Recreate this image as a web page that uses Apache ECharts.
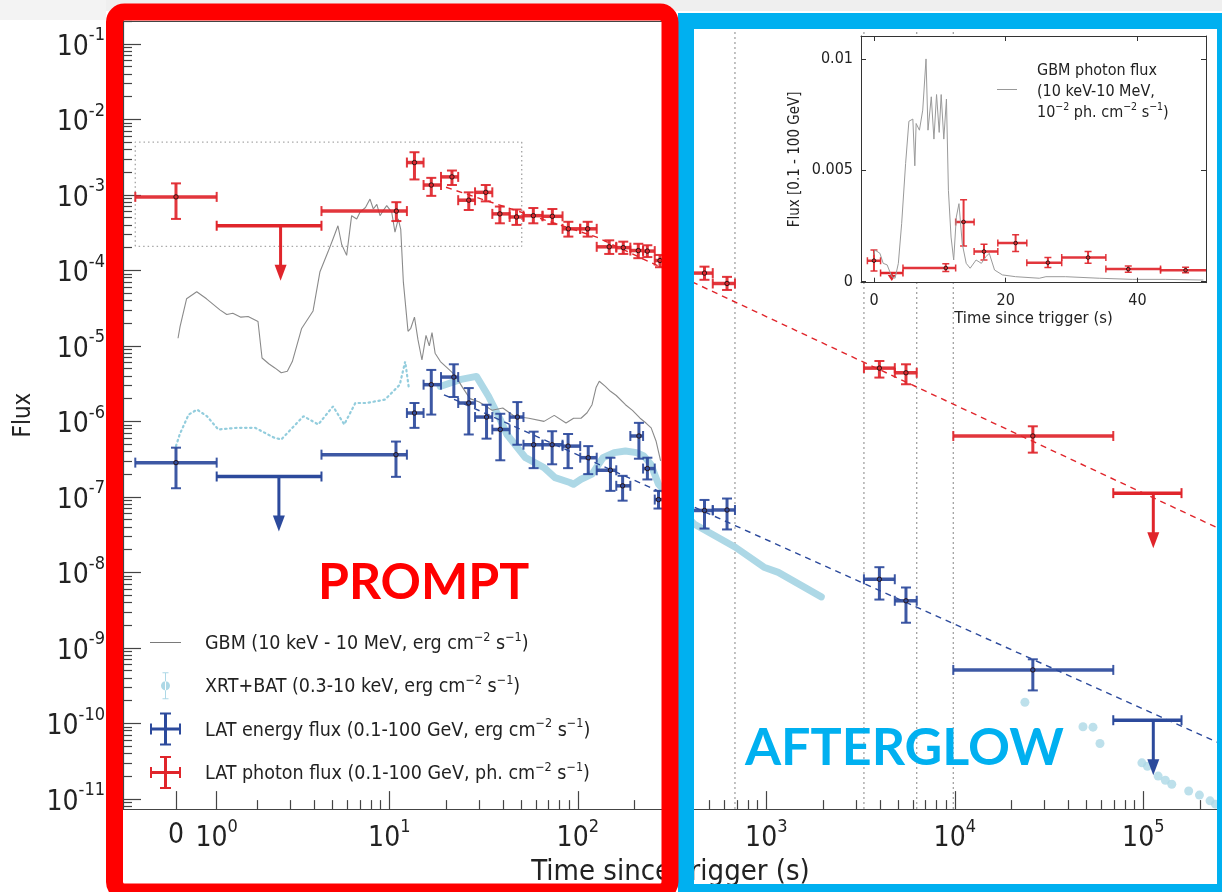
<!DOCTYPE html>
<html><head><meta charset="utf-8">
<script src="https://cdn.jsdelivr.net/npm/echarts@6/dist/echarts.min.js"></script>
<style>html,body{margin:0;padding:0;background:#fff}#c{width:1222px;height:892px}</style>
</head><body><div id="c"></div>
<script>
// ---------------- DATA (times in s, fluxes as plotted) ----------------
const xMajorTimes = [0, 1, 10, 100, 1000, 10000, 100000];
const xTickBase = ['0', '10', '10', '10', '10', '10', '10'];
const xTickExp = ['', '0', '1', '2', '3', '4', '5'];
const yMajorExp = [-11, -10, -9, -8, -7, -6, -5, -4, -3, -2, -1];

const gbmTime = [0.05,0.1,0.26,0.51,0.75,1.08,1.25,1.4,1.6,1.78,2.03,2.15,2.35,2.53,2.72,2.9,3.07,3.47,3.96,4.32,4.75,5.02,5.35,5.6,5.93,6.32,6.73,7.0,7.5,7.91,8.24,8.6,8.93,9.3,9.7,10.3,10.72,11.16,11.5,11.87,12.57,13.0,13.6,14.2,14.9,15.66,16.3,16.85,17.5,18.67,20.5,22.3,24.5,26.8,30,35.1,40,46.1,55,66.2,75,86.6,95,104,112,119,125,130,140,149,160,179,195,214,230,245,260,275];
const gbmFlux = [1.26e-5,1.8e-5,4.2e-5,5.2e-5,4.2e-5,3.0e-5,2.6e-5,2.7e-5,2.4e-5,2.45e-5,2.1e-5,6.9e-6,5.8e-6,5.1e-6,4.4e-6,4.6e-6,6.2e-6,1.7e-5,2.9e-5,9.6e-5,1.76e-4,2.6e-4,3.9e-4,2.2e-4,1.58e-4,5.3e-4,4.8e-4,5.9e-4,6.8e-4,8.8e-4,6.5e-4,7.5e-4,5.3e-4,6.2e-4,7.2e-4,5.9e-4,3.2e-4,4.8e-4,3.5e-4,7.1e-5,1.56e-5,1.71e-5,2.4e-5,1.2e-5,6.5e-6,1.38e-5,1.0e-5,1.5e-5,8.0e-6,6.2e-6,5.0e-6,4.1e-6,2.8e-6,2.0e-6,1.8e-6,1.4e-6,1.5e-6,1.17e-6,1.1e-6,1.0e-6,1.2e-6,9.5e-7,1.1e-6,1.1e-6,1.3e-6,1.66e-6,2.8e-6,3.4e-6,2.9e-6,2.5e-6,2.2e-6,1.66e-6,1.4e-6,1.1e-6,9.5e-7,8.2e-7,5.5e-7,3.0e-7];

const batTime = [0,0.09,0.31,0.52,0.76,1.04,1.5,1.96,2.5,2.72,3.07,3.55,4.23,5.02,5.77,6.62,7.58,9.49,11.36,12.14,12.7];
const batFlux = [4.7e-7,6.7e-7,1.23e-6,1.43e-6,1.17e-6,7.8e-7,8.2e-7,8.2e-7,6.1e-7,5.75e-7,8.2e-7,1.17e-6,9.1e-7,1.58e-6,9.1e-7,1.75e-6,1.75e-6,1.94e-6,3.05e-6,6.2e-6,2.76e-6];

const xrtTime = [18.6,24,29,33.6,38.5,42.1,52.8,66.2,75.7,90.7,94.9,104,119,136,156,179,205,224,244,268,414,685,972,1158,1958];
const xrtFlux = [2.9e-6,3.6e-6,3.94e-6,2.15e-6,1.1e-6,6.7e-7,3.3e-7,2.44e-7,1.8e-7,1.55e-7,1.47e-7,1.71e-7,2.0e-7,3.3e-7,3.85e-7,4.05e-7,3.85e-7,3.48e-7,2.7e-7,1.47e-7,4.37e-8,2.15e-8,1.17e-8,1.0e-8,4.73e-9];

const xrtLateTime = [23550,47860,54090,58900,98300,105200,119900,130900,141600,174100,198500,226000,241600];
const xrtLateFlux = [1.9e-10,9.0e-11,8.9e-11,5.4e-11,3.0e-11,2.7e-11,2.0e-11,1.76e-11,1.56e-11,1.27e-11,1.12e-11,9.4e-12,8.5e-12];

const photonTime   = [0,10.9,13.6,16.7,21.5,26.4,32.5,38.6,47.3,58.1,73.3,89.1,112.8,146.8,174.3,209.4,233.8,273,470,619,3981,5508,25940];
const photonTimeLo = [-1,4.4,12.4,15.2,18.8,23.2,28.5,35.2,43.5,51.5,65,83,103,126,160,190,222,256,390,520,3296,4805,9817];
const photonTimeHi = [1,12.4,15.2,18.8,23.2,28.5,35.2,43.5,51.5,65,83,103,126,160,190,222,256,300,520,682,4805,6281,69300];
const photonFlux   = [9.4e-4,6.1e-4,2.68e-3,1.35e-3,1.73e-3,8.5e-4,1.08e-3,5.6e-4,5.1e-4,5.3e-4,5.2e-4,3.55e-4,3.55e-4,2.05e-4,2.0e-4,1.83e-4,1.8e-4,1.35e-4,9.2e-5,6.7e-5,5.07e-6,4.4e-6,6.4e-7];
const photonFluxLo = [4.8e-4,4.5e-4,1.6e-3,9.7e-4,1.35e-3,6.3e-4,8.2e-4,4.2e-4,4.0e-4,4.2e-4,4.1e-4,2.8e-4,2.8e-4,1.65e-4,1.65e-4,1.45e-4,1.5e-4,1.1e-4,7.5e-5,5.5e-5,3.8e-6,3.1e-6,3.85e-7];
const photonFluxHi = [1.42e-3,8.0e-4,3.67e-3,1.68e-3,2.1e-3,1.08e-3,1.35e-3,7.0e-4,6.4e-4,6.7e-4,6.5e-4,4.4e-4,4.4e-4,2.5e-4,2.4e-4,2.25e-4,2.15e-4,1.6e-4,1.12e-4,8.2e-5,6.3e-6,5.7e-6,8.6e-7];
const photonUlTime = [2.7, 113000];
const photonUlTimeLo = [1, 69300];
const photonUlTimeHi = [4.4, 159500];
const photonUlFlux = [3.9e-4, 1.12e-7];

const energyTime   = [0,10.85,13.6,16.7,22.0,26.4,32.8,38.8,47.8,58.3,73.1,88.8,113.6,149,172.9,211,234,268,470,619,3981,5508,25940];
const energyTimeLo = [-1,4.4,12.4,15.2,18.8,23.2,28.5,35.2,43.5,51.5,65,83,103,126,160,190,222,256,390,520,3296,4805,9817];
const energyTimeHi = [1,12.4,15.2,18.8,23.2,28.5,35.2,43.5,51.5,65,83,103,126,160,190,222,256,300,520,682,4805,6281,69300];
const energyFlux   = [2.84e-7,3.62e-7,1.29e-6,3.06e-6,3.86e-6,1.75e-6,1.14e-6,7.8e-7,1.14e-6,4.9e-7,4.9e-7,4.7e-7,3.3e-7,2.25e-7,1.4e-7,6.4e-7,2.37e-7,9.2e-8,6.6e-8,6.7e-8,8.1e-9,4.2e-9,5.1e-10];
const energyFluxLo = [1.3e-7,1.84e-7,8.2e-7,1.23e-6,2.1e-6,6.7e-7,5.9e-7,3.05e-7,4.9e-7,2.4e-7,2.7e-7,2.4e-7,2.0e-7,1.2e-7,8.9e-8,3.2e-7,1.7e-7,7e-8,3.8e-8,3.7e-8,4.36e-9,2.15e-9,2.73e-10];
const energyFluxHi = [4.48e-7,5.4e-7,1.75e-6,4.8e-6,5.7e-6,2.76e-6,1.66e-6,1.26e-6,1.8e-6,7.3e-7,7.4e-7,6.8e-7,4.7e-7,3.3e-7,1.9e-7,9.55e-7,3.3e-7,1.2e-7,9.1e-8,9.5e-8,1.17e-8,6.3e-9,7.05e-10];
const energyUlTime = [2.65, 113000];
const energyUlTimeLo = [1, 69300];
const energyUlTimeHi = [4.4, 159500];
const energyUlFlux = [1.86e-7, 1.1e-10];

const photonFitTime = [20, 126, 261600];
const photonFitFlux = [1.26e-3, 2.75e-4, 3.64e-8];
const energyFitTime = [19.5, 261600];
const energyFitFlux = [2.25e-6, 5.26e-11];

const orbitEdges = [682, 3296, 6281, 9817];
const zoomBoxTime = [-1, 50.4];
const zoomBoxFlux = [2.08e-4, 5.0e-3];

const insetGbmTime = [0,0.15,0.9,1.4,2.0,2.7,3.2,3.7,4.2,4.8,5.3,5.9,6.2,6.4,6.9,7.4,7.9,8.2,8.7,9.1,9.5,9.9,10.2,10.6,11.0,11.3,11.7,12.1,12.5,12.9,13.4,14.0,14.6,15.5,16.3,17.0,17.5,18.3,19.5,21.5,25.1,26.1,29.1,34.2,39.2,44.2,50];
const insetGbmFlux = [1.2e-3,1.42e-3,1.27e-3,0.82e-3,0.75e-3,0.22e-3,0.15e-3,0.82e-3,2.6e-3,5.3e-3,7.2e-3,7.3e-3,5.2e-3,7.1e-3,6.8e-3,7.7e-3,10.0e-3,6.8e-3,8.3e-3,6.4e-3,8.4e-3,6.7e-3,8.4e-3,6.4e-3,8.2e-3,4.1e-3,2.0e-3,0.97e-3,2.9e-3,3.5e-3,1.7e-3,0.82e-3,0.6e-3,0.97e-3,0.82e-3,1.12e-3,1.27e-3,0.52e-3,0.3e-3,0.22e-3,0.15e-3,0.22e-3,0.22e-3,0.15e-3,0.1e-3,0.1e-3,0.07e-3];
const insetXTicks = [0, 20, 40];
const insetYTicks = [0, 0.005, 0.01];
const insetYLabels = ['0', '0.005', '0.01'];

// ---------------- AXIS SCALE (prompt part of the time axis is warped) ----------------
const warpT = [0,1,2,3,4,5,6,7,8,9,10];
const warpU = [-0.1316,0.0843,0.2981,0.4769,0.6005,0.6997,0.7793,0.8446,0.9029,0.9544,1.0];
function toU(t) {
  if (t >= 10) return Math.log10(t);
  if (t <= 0) return warpU[0] + t * (warpU[1] - warpU[0]);
  const i = Math.floor(t), f = t - i;
  return warpU[i] + f * (warpU[i + 1] - warpU[i]);
}
const lg = Math.log10;
const X_MIN = -0.4127, X_MAX = 5.3963, Y_MIN = -11.136, Y_MAX = -0.697;
const IX_MIN = -1.97, IX_MAX = 50.4, IY_MIN = -0.00005, IY_MAX = 0.01103;

const FONT = "'DejaVu Sans Condensed','DejaVu Sans',sans-serif";
const RED = '#e0252b', BLUE = '#2c4a9c', LIGHT = '#add8e6', GRAY = '#8a8a8a', AX = '#444';

const xMajorU = xMajorTimes.map(toU);
const xMinorU = [];
for (let d = 0; d <= 5; d++) for (let k = 2; k <= 9; k++) { const u = toU(k * Math.pow(10, d)); if (u < X_MAX) xMinorU.push(u); }
const yMinor = [];
for (let n = -12; n <= -1; n++) for (let k = 2; k <= 9; k++) { const v = n + lg(k); if (v > Y_MIN && v < Y_MAX) yMinor.push(v); }

function xLabel(v) {
  let best = 0, bd = 1e9;
  xMajorU.forEach((u, i) => { const d = Math.abs(u - v); if (d < bd) { bd = d; best = i; } });
  return xTickExp[best] === '' ? '{z|' + xTickBase[best] + '}' : '{b|' + xTickBase[best] + '}{s|' + xTickExp[best] + '}';
}

// ---------------- renderers ----------------
function errRender(o) {
  return function (params, api) {
    const c = api.coord([api.value(0), api.value(1)]);
    const xl = api.coord([api.value(2), api.value(1)]);
    const xh = api.coord([api.value(3), api.value(1)]);
    const yl = api.coord([api.value(0), api.value(4)]);
    const yh = api.coord([api.value(0), api.value(5)]);
    const L = (x1, y1, x2, y2, w) => ({ type: 'line', shape: { x1, y1, x2, y2 }, style: { stroke: o.color, lineWidth: w, opacity: 0.92 } });
    return { type: 'group', children: [
      L(xl[0], c[1], xh[0], c[1], o.hw),
      L(c[0], yl[1], c[0], yh[1], o.vw),
      L(xl[0], c[1] - o.cap, xl[0], c[1] + o.cap, o.cw),
      L(xh[0], c[1] - o.cap, xh[0], c[1] + o.cap, o.cw),
      L(c[0] - o.cap, yl[1], c[0] + o.cap, yl[1], o.cw),
      L(c[0] - o.cap, yh[1], c[0] + o.cap, yh[1], o.cw),
      { type: 'circle', shape: { cx: c[0], cy: c[1], r: o.r }, style: { fill: 'none', stroke: '#2a1515', lineWidth: 1 } }
    ] };
  };
}
function ulRender(o) {
  return function (params, api) {
    const c = api.coord([api.value(0), api.value(1)]);
    const xl = api.coord([api.value(2), api.value(1)]);
    const xh = api.coord([api.value(3), api.value(1)]);
    const tip = c[1] + o.arrow;
    const L = (x1, y1, x2, y2, w) => ({ type: 'line', shape: { x1, y1, x2, y2 }, style: { stroke: o.color, lineWidth: w } });
    return { type: 'group', children: [
      L(xl[0], c[1], xh[0], c[1], o.hw),
      L(xl[0], c[1] - o.cap, xl[0], c[1] + o.cap, o.cw),
      L(xh[0], c[1] - o.cap, xh[0], c[1] + o.cap, o.cw),
      L(c[0], c[1], c[0], tip - o.head + 1, o.vw),
      { type: 'polygon', shape: { points: [[c[0] - o.hwid, tip - o.head], [c[0] + o.hwid, tip - o.head], [c[0], tip]] }, style: { fill: o.color } }
    ] };
  };
}

const errMain = (t, tl, th, f, fl, fh) => t.map((v, i) => [toU(v), lg(f[i]), toU(tl[i]), toU(th[i]), lg(fl[i]), lg(fh[i])]);
const ulMain = (t, tl, th, f) => t.map((v, i) => [toU(v), lg(f[i]), toU(tl[i]), toU(th[i])]);

const insetIdx = photonTime.map((t, i) => i).filter(i => photonTime[i] <= 52);
const insetPts = insetIdx.map(i => [photonTime[i], photonFlux[i], photonTimeLo[i], photonTimeHi[i], photonFluxLo[i], photonFluxHi[i]]);
const insetUl = photonUlTime.map((t, i) => [t, photonUlFlux[i], photonUlTimeLo[i], photonUlTimeHi[i]]).filter(d => d[0] <= 52);

// ---------------- legend ----------------
const NOBOX = 'M0,0L0,0Z M31,33L31,33Z ';
const ICON_LINE = 'path://' + NOBOX + 'M0,15.9H31V17.1H0Z';
const ICON_CROSS = 'path://' + NOBOX + 'M0,15H31V18H0Z M14,0H17V33H14Z M0,11H2V22H0Z M29,11H31V22H29Z M10,0H21V2H10Z M10,31H21V33H10Z';
const ICON_XRT = 'path://' + NOBOX + 'M11,16.5A4.5,4.5 0 1,0 20,16.5A4.5,4.5 0 1,0 11,16.5Z M15,3H16V30H15Z M12.5,3H18.5V4H12.5Z M12.5,29H18.5V30H12.5Z';
const ICON_INSET = 'path://M0,0L0,0Z M20,10L20,10Z M0,4.4H20V5.6H0Z';
const legendText = {
  'GBM': '{n|GBM (10 keV - 10 MeV, erg cm}{s|−2}{n| s}{s|−1}{n|)}',
  'XRT+BAT': '{n|XRT+BAT (0.3-10 keV, erg cm}{s|−2}{n| s}{s|−1}{n|)}',
  'LAT energy flux': '{n|LAT energy flux (0.1-100 GeV, erg cm}{s|−2}{n| s}{s|−1}{n|)}',
  'LAT photon flux': '{n|LAT photon flux (0.1-100 GeV, ph. cm}{s|−2}{n| s}{s|−1}{n|)}',
  'GBM photon flux': '{n|GBM photon flux}\n{n|(10 keV-10 MeV,}\n{n|10}{s|−2}{n| ph. cm}{s|−2}{n| s}{s|−1}{n|)}'
};
const leg = (name, icon, color) => ({ name, icon, itemStyle: { color, borderWidth: 0, borderColor: 'transparent' } });

const chart = echarts.init(document.getElementById('c'), null, { renderer: 'canvas' });
const tickStyle = { color: AX, width: 1.2 };
const option = {
  animation: false,
  backgroundColor: '#fff',
  grid: [
    { left: 123, right: 4, top: 21, bottom: 78.7, show: false },
    { left: 861, top: 36, width: 345, height: 246.7, show: true, backgroundColor: '#fff', borderWidth: 0, z: 3 }
  ],
  legend: [
    {
      data: [leg('GBM', ICON_LINE, '#7a7a7a'), leg('XRT+BAT', ICON_XRT, LIGHT), leg('LAT energy flux', ICON_CROSS, BLUE), leg('LAT photon flux', ICON_CROSS, RED)],
      orient: 'vertical', left: 145, top: 621, itemWidth: 31, itemHeight: 33, itemGap: 10.3, selectedMode: false,
      formatter: n => legendText[n],
      textStyle: { padding: [0, 0, 0, 19], rich: {
        n: { fontSize: 19.5, fontFamily: FONT, color: '#222', verticalAlign: 'bottom' },
        s: { fontSize: 12.5, fontFamily: FONT, color: '#222', verticalAlign: 'bottom', padding: [0, 0, 10, 0] } } }
    },
    {
      data: [leg('GBM photon flux', ICON_INSET, '#999')],
      orient: 'vertical', left: 992, top: 58, itemWidth: 20, itemHeight: 10, selectedMode: false, z: 8,
      formatter: n => legendText[n],
      textStyle: { padding: [0, 0, 0, 15], rich: {
        n: { fontSize: 16, fontFamily: FONT, color: '#222', verticalAlign: 'bottom', lineHeight: 21 },
        s: { fontSize: 10.5, fontFamily: FONT, color: '#222', verticalAlign: 'bottom', padding: [0, 0, 8, 0] } } }
    }
  ],
  xAxis: [
    { type: 'value', gridIndex: 0, min: X_MIN, max: X_MAX, position: 'bottom',
      axisLine: { show: true, onZero: false, lineStyle: tickStyle },
      axisTick: { show: true, inside: true, length: 18, customValues: xMajorU, lineStyle: tickStyle },
      axisLabel: { show: true, customValues: xMajorU, margin: 9, formatter: xLabel, rich: {
        b: { fontSize: 28, fontFamily: FONT, color: '#222', verticalAlign: 'bottom' },
        z: { fontSize: 28, fontFamily: FONT, color: '#222', verticalAlign: 'bottom', padding: [4, 0, 0, 0] },
        s: { fontSize: 18, fontFamily: FONT, color: '#222', verticalAlign: 'bottom', padding: [0, 0, 17, 0] } } },
      splitLine: { show: false },
      name: 'Time since trigger (s)', nameLocation: 'middle', nameGap: 48,
      nameTextStyle: { fontSize: 29, fontFamily: FONT, color: '#222' } },
    { type: 'value', gridIndex: 0, min: X_MIN, max: X_MAX, position: 'bottom',
      axisLine: { show: false, onZero: false }, axisLabel: { show: false }, splitLine: { show: false },
      axisTick: { show: true, inside: true, length: 9, customValues: xMinorU, lineStyle: tickStyle } },
    { type: 'value', gridIndex: 0, min: X_MIN, max: X_MAX, position: 'top',
      axisLine: { show: true, onZero: false, lineStyle: tickStyle }, axisTick: { show: false }, axisLabel: { show: false }, splitLine: { show: false } },
    { type: 'value', gridIndex: 1, min: IX_MIN, max: IX_MAX, position: 'bottom', z: 6,
      axisLine: { show: true, onZero: false, lineStyle: { color: '#333', width: 1 } },
      axisTick: { show: true, inside: true, length: 5, customValues: insetXTicks, lineStyle: { color: '#333' } },
      axisLabel: { show: true, customValues: insetXTicks, margin: 10, fontSize: 16, fontFamily: FONT, color: '#222' },
      splitLine: { show: false },
      name: 'Time since trigger (s)', nameLocation: 'middle', nameGap: 28,
      nameTextStyle: { fontSize: 16.5, fontFamily: FONT, color: '#222' } },
    { type: 'value', gridIndex: 1, min: IX_MIN, max: IX_MAX, position: 'top', z: 6,
      axisLine: { show: true, onZero: false, lineStyle: { color: '#333', width: 1 } },
      axisTick: { show: true, inside: true, length: 5, customValues: insetXTicks, lineStyle: { color: '#333' } },
      axisLabel: { show: false }, splitLine: { show: false } }
  ],
  yAxis: [
    { type: 'value', gridIndex: 0, min: Y_MIN, max: Y_MAX, position: 'left',
      axisLine: { show: true, onZero: false, lineStyle: tickStyle },
      axisTick: { show: true, inside: true, length: 18, customValues: yMajorExp, lineStyle: tickStyle },
      axisLabel: { show: true, customValues: yMajorExp, margin: 18, formatter: v => '{b|10}{s|' + Math.round(v) + '}', rich: {
        b: { fontSize: 28, fontFamily: FONT, color: '#222', verticalAlign: 'bottom' },
        s: { fontSize: 18, fontFamily: FONT, color: '#222', verticalAlign: 'bottom', padding: [0, 0, 17, 0] } } },
      splitLine: { show: false },
      name: 'Flux', nameLocation: 'middle', nameGap: 81,
      nameTextStyle: { fontSize: 24, fontFamily: FONT, color: '#222' } },
    { type: 'value', gridIndex: 0, min: Y_MIN, max: Y_MAX, position: 'left',
      axisLine: { show: false, onZero: false }, axisLabel: { show: false }, splitLine: { show: false },
      axisTick: { show: true, inside: true, length: 9, customValues: yMinor, lineStyle: tickStyle } },
    { type: 'value', gridIndex: 0, min: Y_MIN, max: Y_MAX, position: 'right',
      axisLine: { show: true, onZero: false, lineStyle: tickStyle }, axisTick: { show: false }, axisLabel: { show: false }, splitLine: { show: false } },
    { type: 'value', gridIndex: 1, min: IY_MIN, max: IY_MAX, position: 'left', z: 6,
      axisLine: { show: true, onZero: false, lineStyle: { color: '#333', width: 1 } },
      axisTick: { show: true, inside: true, length: 5, customValues: insetYTicks, lineStyle: { color: '#333' } },
      axisLabel: { show: true, customValues: insetYTicks, margin: 8, fontSize: 16, fontFamily: FONT, color: '#222',
        formatter: v => insetYLabels[insetYTicks.findIndex(x => Math.abs(x - v) < 1e-9)] || '' },
      splitLine: { show: false },
      name: 'Flux [0.1 - 100 GeV]', nameLocation: 'middle', nameGap: 58,
      nameTextStyle: { fontSize: 15, fontFamily: FONT, color: '#222' } },
    { type: 'value', gridIndex: 1, min: IY_MIN, max: IY_MAX, position: 'right', z: 6,
      axisLine: { show: true, onZero: false, lineStyle: { color: '#333', width: 1 } },
      axisTick: { show: true, inside: true, length: 5, customValues: insetYTicks, lineStyle: { color: '#333' } },
      axisLabel: { show: false }, splitLine: { show: false } }
  ],
  series: [
    { type: 'custom', name: 'orbits', z: 1, xAxisIndex: 0, yAxisIndex: 0, silent: true,
      data: orbitEdges.map(t => [toU(t), Y_MIN]), encode: { x: 0, y: 1 },
      renderItem: (p, api) => { const a = api.coord([api.value(0), Y_MIN]), b = api.coord([api.value(0), Y_MAX]);
        return { type: 'line', shape: { x1: a[0], y1: a[1], x2: b[0], y2: b[1] }, style: { stroke: '#9a9a9a', lineWidth: 1.2, lineDash: [2, 3] } }; } },
    { type: 'line', name: 'zoombox', z: 1, symbol: 'none', silent: true,
      data: [[toU(zoomBoxTime[0]), lg(zoomBoxFlux[0])], [toU(zoomBoxTime[0]), lg(zoomBoxFlux[1])], [toU(zoomBoxTime[1]), lg(zoomBoxFlux[1])], [toU(zoomBoxTime[1]), lg(zoomBoxFlux[0])], [toU(zoomBoxTime[0]), lg(zoomBoxFlux[0])]],
      lineStyle: { color: '#a8a8a8', width: 1.4, type: [1.5, 3] } },
    { type: 'line', name: 'XRT+BAT', z: 2, symbol: 'none', color: LIGHT,
      data: xrtTime.map((t, i) => [toU(t), lg(xrtFlux[i])]),
      lineStyle: { color: LIGHT, width: 7, cap: 'round', join: 'round' } },
    { type: 'line', name: 'XRT+BAT', z: 2, symbol: 'none', color: LIGHT,
      data: batTime.map((t, i) => [toU(t), lg(batFlux[i])]),
      lineStyle: { color: '#93cddd', width: 2.2, type: [1.5, 3.5], cap: 'round' } },
    { type: 'scatter', name: 'XRT+BAT', z: 2, symbolSize: 9, itemStyle: { color: LIGHT },
      data: xrtLateTime.map((t, i) => [toU(t), lg(xrtLateFlux[i])]) },
    { type: 'line', name: 'GBM', z: 2, symbol: 'none', color: GRAY,
      data: gbmTime.map((t, i) => [toU(t), lg(gbmFlux[i])]),
      lineStyle: { color: GRAY, width: 1.1 } },
    { type: 'line', name: 'photon fit', z: 2, symbol: 'none',
      data: photonFitTime.map((t, i) => [toU(t), lg(photonFitFlux[i])]),
      lineStyle: { color: RED, width: 1.4, type: [6, 5] } },
    { type: 'line', name: 'energy fit', z: 2, symbol: 'none',
      data: energyFitTime.map((t, i) => [toU(t), lg(energyFitFlux[i])]),
      lineStyle: { color: BLUE, width: 1.4, type: [6, 5] } },
    { type: 'custom', name: 'LAT energy flux', z: 3, itemStyle: { color: BLUE },
      data: errMain(energyTime, energyTimeLo, energyTimeHi, energyFlux, energyFluxLo, energyFluxHi), encode: { x: [0, 2, 3], y: [1, 4, 5] },
      renderItem: errRender({ color: BLUE, hw: 3.5, vw: 3, cw: 2, cap: 5, r: 2.2 }) },
    { type: 'custom', name: 'LAT energy flux', z: 3, itemStyle: { color: BLUE },
      data: ulMain(energyUlTime, energyUlTimeLo, energyUlTimeHi, energyUlFlux), encode: { x: [0, 2, 3], y: 1 },
      renderItem: ulRender({ color: BLUE, hw: 3.5, vw: 3, cw: 2, cap: 5, arrow: 55, head: 16, hwid: 6 }) },
    { type: 'custom', name: 'LAT photon flux', z: 3, itemStyle: { color: RED },
      data: errMain(photonTime, photonTimeLo, photonTimeHi, photonFlux, photonFluxLo, photonFluxHi), encode: { x: [0, 2, 3], y: [1, 4, 5] },
      renderItem: errRender({ color: RED, hw: 3.5, vw: 3, cw: 2, cap: 5, r: 2.2 }) },
    { type: 'custom', name: 'LAT photon flux', z: 3, itemStyle: { color: RED },
      data: ulMain(photonUlTime, photonUlTimeLo, photonUlTimeHi, photonUlFlux), encode: { x: [0, 2, 3], y: 1 },
      renderItem: ulRender({ color: RED, hw: 3.5, vw: 3, cw: 2, cap: 5, arrow: 55, head: 16, hwid: 6 }) },
    { type: 'line', name: 'GBM photon flux', z: 5, xAxisIndex: 3, yAxisIndex: 3, symbol: 'none', color: '#999',
      data: insetGbmTime.map((t, i) => [t, insetGbmFlux[i]]),
      lineStyle: { color: '#9a9a9a', width: 1 } },
    { type: 'custom', name: 'inset LAT', z: 5, xAxisIndex: 3, yAxisIndex: 3, clip: true,
      data: insetPts, encode: { x: [0, 2, 3], y: [1, 4, 5] },
      renderItem: errRender({ color: RED, hw: 2.5, vw: 2, cw: 1.5, cap: 3.5, r: 1.8 }) },
    { type: 'custom', name: 'inset LAT UL', z: 5, xAxisIndex: 3, yAxisIndex: 3, clip: true,
      data: insetUl, encode: { x: [0, 2, 3], y: 1 },
      renderItem: ulRender({ color: RED, hw: 2.5, vw: 2, cw: 1.5, cap: 3.5, arrow: 8, head: 6, hwid: 4 }) }
  ],
  graphic: [
    { type: 'rect', z: 0, silent: true, shape: { x: 0, y: 0, width: 1222, height: 11 }, style: { fill: '#efefef' } },
    { type: 'rect', z: 0, silent: true, shape: { x: 0, y: 0, width: 106, height: 20 }, style: { fill: '#f3f3f3' } },
    { type: 'rect', z: 100, silent: true, shape: { x: 686, y: 21, width: 539, height: 871 }, style: { fill: 'none', stroke: '#00b0f0', lineWidth: 16 } },
    { type: 'rect', z: 101, silent: true, shape: { x: 114.5, y: 12, width: 555.5, height: 880, r: 10 }, style: { fill: 'none', stroke: '#ff0000', lineWidth: 17 } },
    { type: 'text', z: 102, silent: true, x: 318, y: 583, style: { text: 'PROMPT', fill: '#ff0000', font: 'bold 50px Lato', verticalAlign: 'middle', align: 'left' } },
    { type: 'text', z: 102, silent: true, x: 745, y: 748, style: { text: 'AFTERGLOW', fill: '#00b0f0', font: 'bold 52px Lato', verticalAlign: 'middle', align: 'left' } }
  ]
};
chart.setOption(option);
</script></body></html>
